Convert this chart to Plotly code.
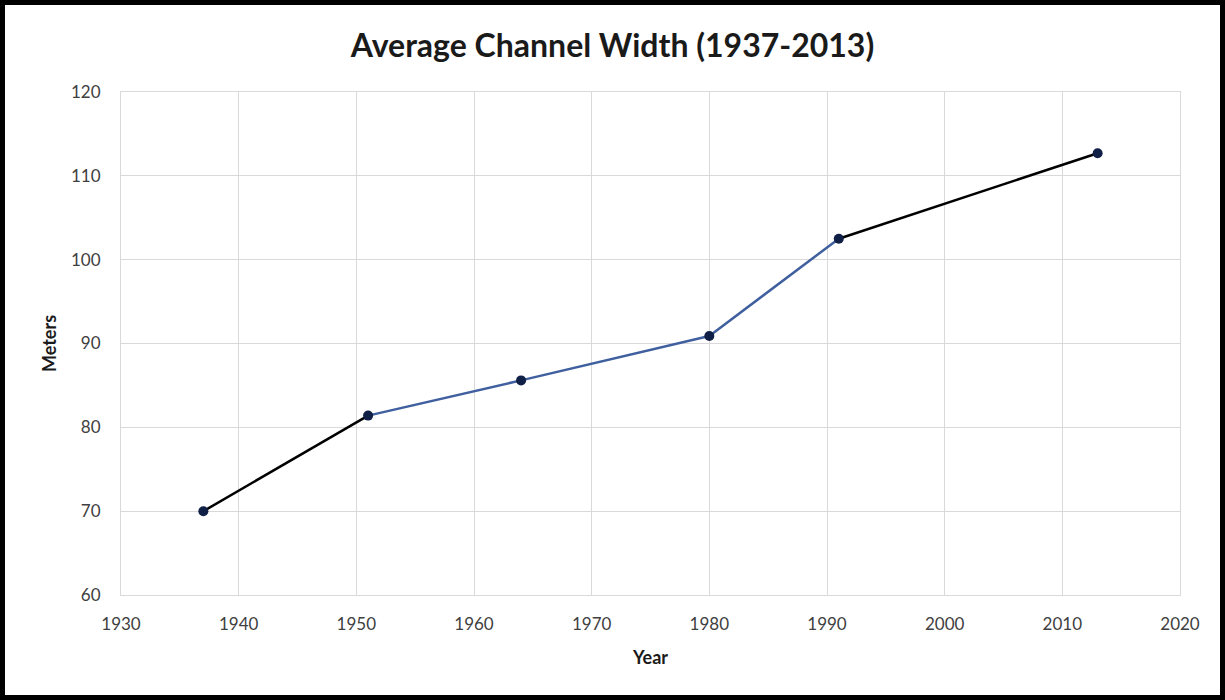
import plotly.graph_objects as go

years = [1937, 1951, 1964, 1980, 1991, 2013]
widths = [70.0, 81.4, 85.6, 90.9, 102.5, 112.7]
segment_colors = ["#000000", "#3f5f9f", "#3f5f9f", "#3f5f9f", "#000000"]
title_text = "Average Channel Width (1937-2013)"
x_ticks = [1930, 1940, 1950, 1960, 1970, 1980, 1990, 2000, 2010, 2020]
y_ticks = [60, 70, 80, 90, 100, 110, 120]

W, H = 1225, 700
ml, mr, mt, mb = 121, 45, 92, 105

fig = go.Figure()
for i, c in enumerate(segment_colors):
    fig.add_trace(go.Scatter(x=years[i:i + 2], y=widths[i:i + 2], mode="lines",
                             line=dict(color=c, width=2.5), showlegend=False,
                             hoverinfo="skip"))
fig.add_trace(go.Scatter(x=years, y=widths, mode="markers",
                         marker=dict(color="#0f1f45", size=10), showlegend=False))

pw = W - ml - mr
ph = H - mt - mb
def px(v):
    return (v - ml) / pw
def py(v):
    return 1 - (v - mt) / ph

fig.add_shape(type="rect", xref="paper", yref="paper",
              x0=px(2.5), x1=px(W - 2.5), y0=py(H - 2.5), y1=py(2.5),
              line=dict(color="black", width=5), layer="above")

fig.update_layout(
    width=W, height=H,
    margin=dict(l=ml, r=mr, t=mt, b=mb),
    paper_bgcolor="white", plot_bgcolor="white",
    title=dict(text=title_text, x=0.5, xref="container", xanchor="center",
               y=1 - 46 / H, yanchor="middle",
               font=dict(family="Lato", size=32, color="#1a1a1a", weight="bold")),
    font=dict(family="Lato", color="#404040"),
    xaxis=dict(range=[1930, 2020], tickvals=x_ticks, showgrid=True,
               gridcolor="#d9d9d9", gridwidth=1, zeroline=False,
               showline=True, linecolor="#d9d9d9", mirror=True,
               ticks="outside", ticklen=14, tickcolor="white",
               tickfont=dict(size=17, color="#404040"),
               title=dict(text="Year", font=dict(size=18, color="#1a1a1a", weight="bold"),
                          standoff=17)),
    yaxis=dict(range=[60, 120], tickvals=y_ticks, showgrid=True,
               gridcolor="#d9d9d9", gridwidth=1, zeroline=False,
               showline=True, linecolor="#d9d9d9", mirror=True,
               ticks="outside", ticklen=16, tickcolor="white",
               tickfont=dict(size=17, color="#404040"),
               title=dict(text="Meters", font=dict(size=18, color="#1a1a1a", weight="bold"),
                          standoff=9)),
)

fig.write_html("out.html", config={"displayModeBar": False},
               post_script="document.body.style.margin='0';")
